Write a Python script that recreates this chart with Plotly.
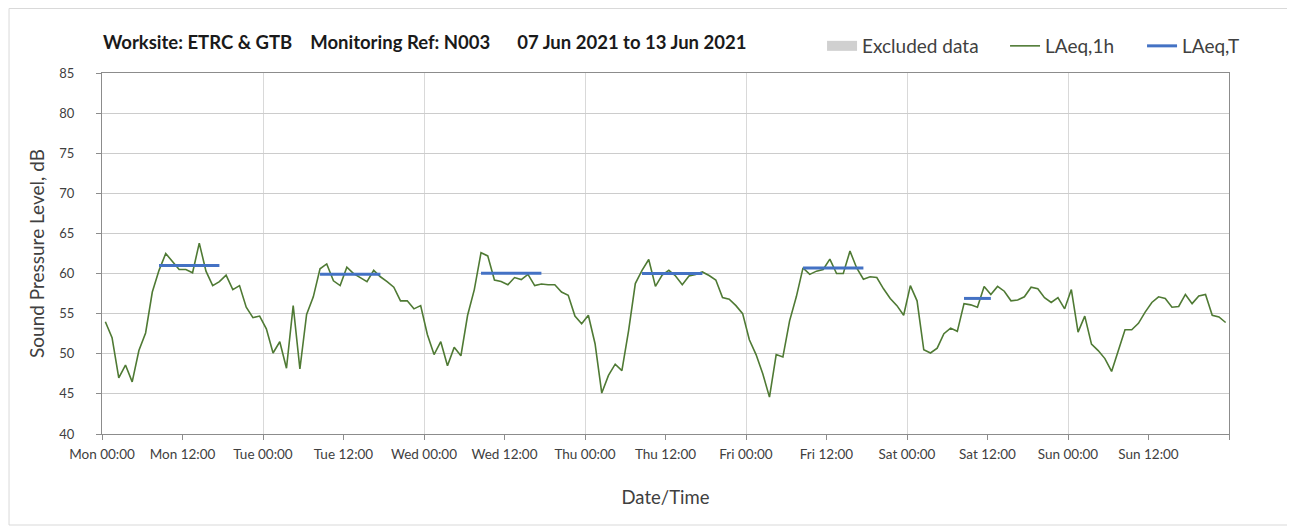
import pandas as pd
import plotly.graph_objects as go

# Hourly LAeq,1h readings, Mon 07 Jun 2021 00:00 -> Sun 13 Jun 2021 23:00 (dB)
laeq_mon = [54.0, 52.0, 47.0, 48.6, 46.5, 50.4, 52.6, 57.7, 60.4, 62.5, 61.5, 60.5,
            60.5, 60.1, 63.8, 60.3, 58.5, 59.0, 59.8, 58.0, 58.5, 55.8, 54.5, 54.7]
laeq_tue = [53.1, 50.1, 51.5, 48.2, 56.0, 48.1, 54.9, 57.1, 60.6, 61.2, 59.1, 58.5,
            60.8, 60.0, 59.5, 59.0, 60.4, 59.6, 59.0, 58.3, 56.6, 56.6, 55.6, 56.0]
laeq_wed = [52.4, 49.9, 51.5, 48.5, 50.8, 49.75, 54.8, 58.0, 62.6, 62.2, 59.2, 59.0,
            58.6, 59.5, 59.25, 59.9, 58.5, 58.7, 58.6, 58.6, 57.7, 57.3, 54.7, 53.75]
laeq_thu = [54.8, 51.25, 45.1, 47.3, 48.7, 47.9, 52.9, 58.75, 60.4, 61.75, 58.4, 59.8,
            60.4, 59.7, 58.6, 59.7, 59.9, 60.2, 59.75, 59.2, 57.0, 56.8, 56.0, 55.0]
laeq_fri = [51.75, 49.9, 47.5, 44.6, 49.9, 49.6, 54.1, 57.1, 60.7, 59.9, 60.3, 60.5,
            61.8, 60.0, 60.0, 62.8, 60.7, 59.3, 59.6, 59.5, 58.1, 56.9, 56.0, 54.8]
laeq_sat = [58.5, 56.6, 50.5, 50.1, 50.7, 52.5, 53.2, 52.8, 56.25, 56.1, 55.8, 58.4,
            57.4, 58.4, 57.8, 56.6, 56.7, 57.1, 58.3, 58.1, 57.0, 56.4, 57.0, 55.6]
laeq_sun = [58.0, 52.7, 54.7, 51.2, 50.4, 49.4, 47.8, 50.4, 53.0, 53.0, 53.8, 55.2,
            56.4, 57.1, 56.9, 55.8, 55.9, 57.4, 56.25, 57.2, 57.4, 54.8, 54.6, 53.9]
laeq_1h = laeq_mon + laeq_tue + laeq_wed + laeq_thu + laeq_fri + laeq_sat + laeq_sun

# LAeq,T over the working period of each day
period_day = ["2021-06-07", "2021-06-08", "2021-06-09", "2021-06-10", "2021-06-11", "2021-06-12"]
period_start = [8, 8, 8, 8, 8, 8]     # hour of first reading
period_end = [17, 17, 17, 17, 17, 12]  # hour of last reading
laeq_t = [61.0, 59.9, 60.05, 60.0, 60.7, 56.9]

# x-axis tick labels (every 12 h)
tick_times = pd.date_range("2021-06-07", periods=14, freq="12h")
tick_labels = ["Mon 00:00", "Mon 12:00", "Tue 00:00", "Tue 12:00", "Wed 00:00", "Wed 12:00",
               "Thu 00:00", "Thu 12:00", "Fri 00:00", "Fri 12:00", "Sat 00:00", "Sat 12:00",
               "Sun 00:00", "Sun 12:00"]

# readings sit in the middle of each hourly category
half = pd.Timedelta(minutes=30)
times = pd.date_range("2021-06-07", periods=len(laeq_1h), freq="h") + half

t_x, t_y = [], []
for d, s, e, v in zip(period_day, period_start, period_end, laeq_t):
    day = pd.Timestamp(d)
    t_x += [day + pd.Timedelta(hours=s) + half, day + pd.Timedelta(hours=e) + half, None]
    t_y += [v, v, None]

font = "Lato, Calibri, sans-serif"
txt = "#404040"

fig = go.Figure()
fig.add_trace(go.Scatter(x=[None], y=[None], name="Excluded data", mode="lines",
                         line=dict(color="#d0d0d0", width=12), legendwidth=138))
fig.add_trace(go.Scatter(x=times, y=laeq_1h, name="LAeq,1h", mode="lines",
                         line=dict(color="#4f7a34", width=1.6), legendwidth=92))
fig.add_trace(go.Scatter(x=t_x, y=t_y, name="LAeq,T", mode="lines",
                         line=dict(color="#4472c4", width=3)))

nb = "\u00a0"
title = ("Worksite: ETRC & GTB" + nb * 4 + "Monitoring Ref: N003" + nb * 6
         + "07 Jun 2021 to 13 Jun 2021")

# page has an 8px body margin, so the figure is sized/placed to land on the reference pixels
fig.update_layout(
    width=1287, height=523,
    margin=dict(l=94, r=66, t=65, b=97),
    paper_bgcolor="white", plot_bgcolor="white",
    font=dict(family=font, color=txt, size=13),
    title=dict(text="<b>" + title + "</b>", x=0.0738, xanchor="left", xref="container",
               y=0.9331, yanchor="middle", yref="container",
               font=dict(size=18.5, color="#1a1a1a")),
    legend=dict(orientation="h", x=0.6389, xanchor="left", y=1.0748, yanchor="middle",
                font=dict(size=19, color=txt), bgcolor="rgba(0,0,0,0)"),
    showlegend=True,
    shapes=[dict(type="rect", xref="paper", yref="paper",
                 x0=-0.0825, x1=1.0541, y0=-0.2521, y1=1.1787,
                 line=dict(color="#d9d9d9", width=1), layer="below")],
)

fig.update_xaxes(
    type="date",
    range=[pd.Timestamp("2021-06-07"), pd.Timestamp("2021-06-14")],
    tickmode="array", tickvals=tick_times, ticktext=tick_labels,
    ticks="outside", ticklen=5, tickcolor="#8c8c8c", tickfont=dict(size=13.5, color=txt),
    ticklabelstandoff=3,
    showgrid=False,
    minor=dict(dtick=86400000, tick0="2021-06-07", showgrid=True, gridcolor="#d9d9d9",
               gridwidth=1, ticks="outside", ticklen=5, tickcolor="#8c8c8c"),
    showline=True, linecolor="#8c8c8c", linewidth=1, mirror=True,
    title=dict(text="Date/Time", font=dict(size=18.5, color=txt), standoff=29),
    zeroline=False,
)
fig.update_yaxes(
    range=[40, 85], dtick=5, tick0=40,
    ticks="outside", ticklen=5, tickcolor="#8c8c8c", tickfont=dict(size=13, color=txt),
    ticklabelstandoff=19,
    showgrid=True, gridcolor="#cccccc", gridwidth=1,
    showline=True, linecolor="#8c8c8c", linewidth=1, mirror=True,
    title=dict(text="Sound Pressure Level, dB", font=dict(size=19, color=txt), standoff=9),
    zeroline=False,
)

fig.write_html("out.html")
